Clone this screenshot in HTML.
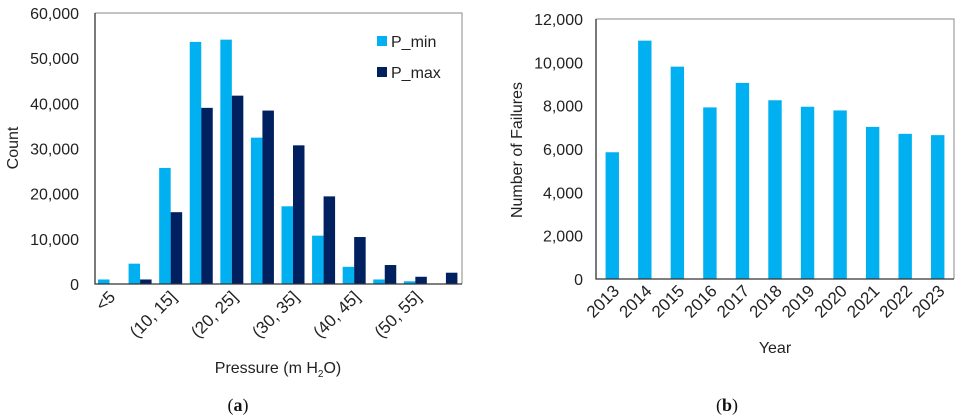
<!DOCTYPE html>
<html><head><meta charset="utf-8"><style>
body{margin:0;background:#fff;}
svg{display:block;font-family:"Liberation Sans",sans-serif;}
</style></head><body>
<svg id="s" width="960" height="417"></svg>
<script>
const catsA=["<5","(5, 10]","(10, 15]","(15, 20]","(20, 25]","(25, 30]","(30, 35]","(35, 40]","(40, 45]","(45, 50]","(50, 55]",">55"];
const pMin=[1000,4500,25700,53600,54100,32400,17200,10700,3800,1000,600,100];
const pMax=[0,1000,15900,39000,41700,38400,30700,19400,10400,4200,1600,2500];
const ticksA=[0,10000,20000,30000,40000,50000,60000];
const years=["2013","2014","2015","2016","2017","2018","2019","2020","2021","2022","2023"];
const failures=[5850,11000,9800,7920,9050,8250,7950,7780,7020,6700,6640];
const ticksB=[0,2000,4000,6000,8000,10000,12000];

const s=document.getElementById('s');const NS="http://www.w3.org/2000/svg";
function el(t,a,txt){const e=document.createElementNS(NS,t);for(const k in a)e.setAttribute(k,a[k]);if(txt!==undefined)e.textContent=txt;s.appendChild(e);return e;}
const fmt=v=>v.toLocaleString('en-US');
const C1="#00b0f0",C2="#002060";

// Chart A
const aL=95,aR=462,aT=13,aB=284;
const yA=v=>aB-v/60000*(aB-aT);
const bwA=(aR-aL)/catsA.length;
ticksA.forEach(t=>{const e=el('text',{x:aL-16,y:yA(t)+6,'text-anchor':'end','font-size':16,fill:'#222'},fmt(t));
});
catsA.forEach((c,i)=>{const x0=aL+i*bwA;
 let r=el('rect',{x:x0+3,y:yA(pMin[i]),width:11.5,height:aB-yA(pMin[i]),fill:C1});
 
 r=el('rect',{x:x0+14.5,y:yA(pMax[i]),width:11.5,height:aB-yA(pMax[i]),fill:C2});
 
 if(i%2==0){const cx=x0+bwA/2+6,cy=298;const t=el('text',{x:cx,y:cy,'text-anchor':'end','font-size':17,fill:'#222',transform:`rotate(-45 ${cx} ${cy})`},c);
 }
});
let f=el('path',{d:`M${aL} ${aT}H${aR}V${aB}`,fill:'none',stroke:'#888','stroke-width':1});

f=el('path',{d:`M${aL} ${aT}V${aB}H${aR}`,fill:'none',stroke:'#333','stroke-width':1.3});

let t=el('text',{x:18,y:148,'text-anchor':'middle','font-size':16,fill:'#222',transform:'rotate(-90 18 148)'},'Count');

t=el('text',{x:278,y:373,'text-anchor':'middle','font-size':16,fill:'#222'});
t.innerHTML='Pressure (m H<tspan font-size="10" dy="4">2</tspan><tspan dy="-4">O)</tspan>';

let lg=el('rect',{x:377,y:36,width:10,height:10,fill:C1});
t=el('text',{x:391,y:47,'font-size':16,fill:'#222'},'P_min');
lg=el('rect',{x:377,y:67,width:10,height:10,fill:C2});
t=el('text',{x:391,y:78,'font-size':16,fill:'#222'},'P_max');
t=el('text',{x:238,y:411,'text-anchor':'middle','font-size':18,fill:'#111','font-family':'Liberation Serif,serif'});
t.innerHTML='(<tspan font-weight="bold">a</tspan>)';

// Chart B
const bL=596,bR=954,bT=19,bB=279;
const yB=v=>bB-v/12000*(bB-bT);
const bwB=(bR-bL)/years.length;
ticksB.forEach(v=>{const e=el('text',{x:bL-13,y:yB(v)+6,'text-anchor':'end','font-size':16,fill:'#222'},fmt(v));
});
years.forEach((y,i)=>{const cx=bL+(i+0.5)*bwB;
 const r=el('rect',{x:cx-6.7,y:yB(failures[i]),width:13.4,height:bB-yB(failures[i]),fill:C1});
 
 const tx=cx+8,ty=292;const e=el('text',{x:tx,y:ty,'text-anchor':'end','font-size':17,fill:'#222',transform:`rotate(-45 ${tx} ${ty})`},y);
 
});
f=el('path',{d:`M${bL} ${bT}H${bR}V${bB}`,fill:'none',stroke:'#888','stroke-width':1});

f=el('path',{d:`M${bL} ${bT}V${bB}H${bR}`,fill:'none',stroke:'#333','stroke-width':1.3});

t=el('text',{x:522,y:150,'text-anchor':'middle','font-size':16,fill:'#222',transform:'rotate(-90 522 150)'},'Number of Failures');

t=el('text',{x:775,y:353,'text-anchor':'middle','font-size':16,fill:'#222'},'Year');

t=el('text',{x:727,y:411,'text-anchor':'middle','font-size':18,fill:'#111','font-family':'Liberation Serif,serif'});
t.innerHTML='(<tspan font-weight="bold">b</tspan>)';
</script>
</body></html>
